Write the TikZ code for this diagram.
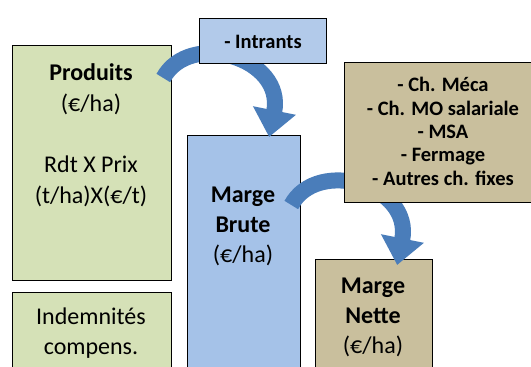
\documentclass[tikz,border=0pt]{standalone}
\usepackage{fontspec}
\setmainfont{Carlito}
\usetikzlibrary{arrows.meta}
\definecolor{prodgreen}{RGB}{213,225,183}
\definecolor{margeblue}{RGB}{165,194,232}
\definecolor{intrblue}{RGB}{178,202,234}
\definecolor{chgtan}{RGB}{201,191,157}
\definecolor{arrowblue}{RGB}{74,125,186}
\tikzset{
  box/.style={draw=black,line width=1.3pt,anchor=north west,inner sep=0pt},
  bigtxt/.style={anchor=base,align=center,inner sep=0pt,font=\fontsize{24}{30}\selectfont},
  smalltxt/.style={anchor=base,align=center,inner sep=0pt,font=\bfseries\fontsize{20.5}{23.3}\selectfont},
  bigarrow/.style={draw=arrowblue,line width=16pt,-{Triangle[width=42pt,length=27pt]}}
}
\begin{document}
\begin{tikzpicture}[x=1pt,y=1pt]
\useasboundingbox (0,0) rectangle (531,-367);
\clip (0,0) rectangle (531,-367);
% lower boxes
\node[box,fill=prodgreen,minimum width=159pt,minimum height=235pt] (prod) at (12,-45) {};
\node[box,fill=prodgreen,minimum width=159pt,minimum height=100pt] (indem) at (12,-292) {};
\node[box,fill=margeblue,minimum width=113pt,minimum height=250pt] (mb) at (187,-135) {};
\node[box,fill=chgtan,minimum width=117pt,minimum height=130pt] (mn) at (315,-259) {};
% text is anchored at the base of its last line
\node[bigtxt,font=\fontsize{24}{31}\selectfont] (prodtxt) at (91,-203) {\textbf{Produits}\\(€/ha)\\[30pt]Rdt X Prix\\(t/ha)X(€/t)};
\node[bigtxt] (indemtxt) at (91,-354) {Indemnités\\compens.};
\node[bigtxt] (mbtxt) at (243,-262) {\textbf{Marge}\\\textbf{Brute}\\(€/ha)};
\node[bigtxt] (mntxt) at (373,-353) {\textbf{Marge}\\\textbf{Nette}\\(€/ha)};
% curved arrows
\coordinate (a1s) at ([xshift=-9pt,yshift=-33pt]prod.north east);
\coordinate (a1e) at ([xshift=25pt,yshift=-2pt]mb.north);
\coordinate (a2s) at ([xshift=-10pt,yshift=-70pt]mb.north east);
\coordinate (a2e) at ([xshift=23pt,yshift=-6pt]mn.north);
\draw[bigarrow] (a1s) .. controls +(26,48) and +(16,80) .. (a1e);
\draw[bigarrow] (a2s) .. controls +(26,48) and +(16,80) .. (a2e);
% upper boxes
\node[box,fill=intrblue,minimum width=127pt,minimum height=45pt] (intr) at (199,-18) {};
\node[box,fill=chgtan,minimum width=200pt,minimum height=140pt] (chg) at (344,-62) {};
\node[smalltxt] (intrtxt) at (263,-48) {- Intrants};
\node[smalltxt] (chgtxt) at (443,-185) {- Ch. Méca\\- Ch. MO salariale\\- MSA\\- Fermage\\- Autres ch. fixes};
\end{tikzpicture}
\end{document}
